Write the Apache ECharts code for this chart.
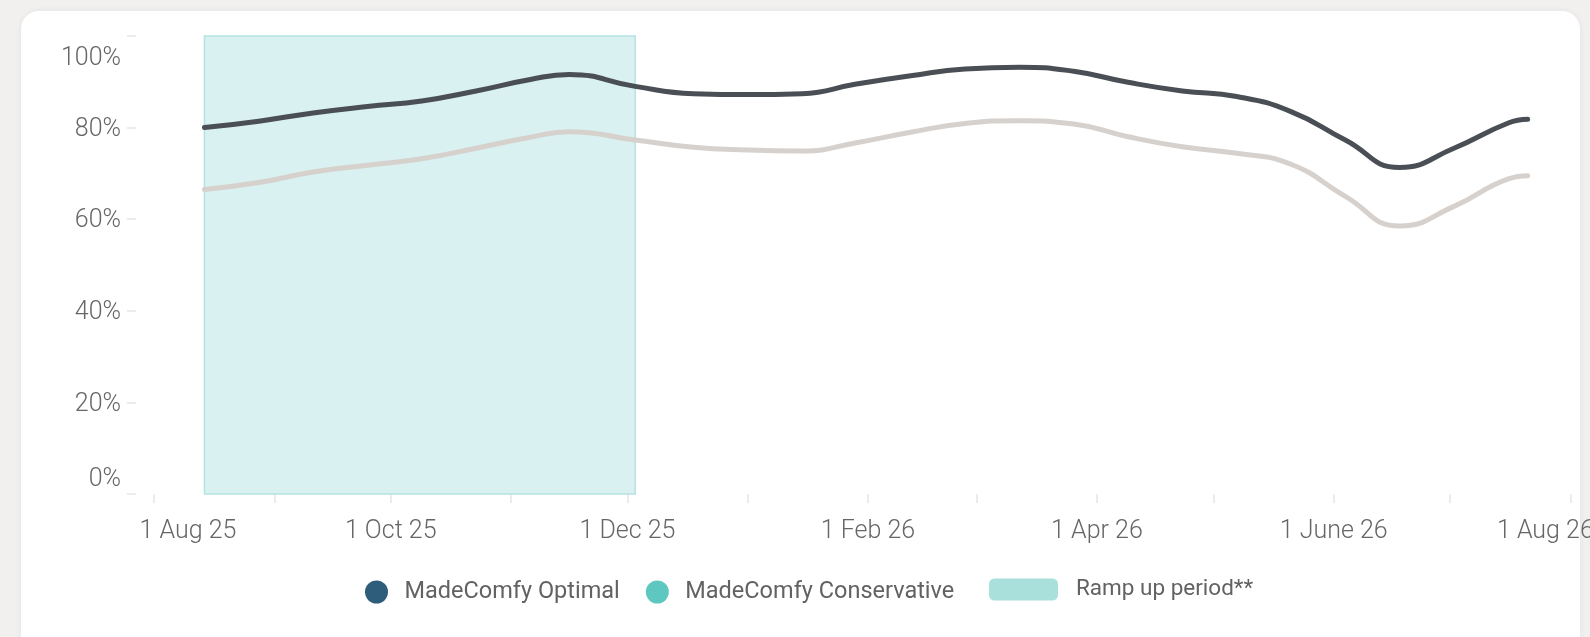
<!DOCTYPE html>
<html>
<head>
<meta charset="utf-8">
<script src="https://cdn.jsdelivr.net/npm/echarts@6/dist/echarts.min.js"></script>
<style>
  html, body { margin: 0; padding: 0; width: 1590px; height: 637px; overflow: hidden; background: #f1f0ee; }
  #card { position: absolute; left: 21px; top: 11px; width: 1559px; height: 700px; background: #ffffff; border-radius: 18px; box-shadow: 0 0 6px rgba(0,0,0,0.06); }
  #chart { position: absolute; left: 0; top: 0; width: 1590px; height: 637px; }
</style>
</head>
<body>
<div id="card"></div>
<div id="chart"></div>
<script>
// Occupancy forecast points
const dates = [
  '2025-08-14', '2025-08-28', '2025-09-11', '2025-09-25', '2025-10-09', '2025-10-23',
  '2025-11-06', '2025-11-16', '2025-12-03', '2025-12-18', '2026-01-01', '2026-01-15',
  '2026-01-29', '2026-02-12', '2026-02-26', '2026-03-12', '2026-03-26', '2026-04-09',
  '2026-04-23', '2026-05-07', '2026-05-21', '2026-06-04', '2026-06-18', '2026-07-02',
  '2026-07-16', '2026-07-21'
];
const optimal = [
  80.0, 81.4, 83.2, 84.6, 85.8, 88.0,
  90.5, 91.6, 89.0, 87.4, 87.2, 87.4,
  89.5, 91.3, 92.8, 93.2, 92.3, 89.9,
  88.0, 86.8, 83.5, 77.3, 71.3, 75.5,
  81.0, 81.8
];
const conservative = [
  66.5, 68.0, 70.3, 71.8, 73.2, 75.5,
  77.9, 79.1, 77.3, 75.7, 75.1, 74.9,
  76.7, 79.0, 80.9, 81.5, 80.8, 78.0,
  75.8, 74.4, 72.0, 65.0, 58.5, 62.8,
  68.8, 69.5
];

// Ramp up period
const rampStart = '2025-08-14';
const rampEnd = '2025-12-03';

// Axis ticks and labels
const tickDates = [
  '2025-08-01', '2025-09-01', '2025-10-01', '2025-11-01', '2025-12-01', '2026-01-01',
  '2026-02-01', '2026-03-01', '2026-04-01', '2026-05-01', '2026-06-01', '2026-07-01', '2026-08-01'
];
const labelDates = ['2025-08-01', '2025-10-01', '2025-12-01', '2026-02-01', '2026-04-01', '2026-06-01', '2026-08-01'];
const labelTexts = ['1 Aug 25', '1 Oct 25', '1 Dec 25', '1 Feb 26', '1 Apr 26', '1 June 26', '1 Aug 26'];
const yTicks = [0, 20, 40, 60, 80, 100];
const yTickLabels = ['0%', '20%', '40%', '60%', '80%', '100%'];

const seriesNames = ['MadeComfy Optimal', 'MadeComfy Conservative', 'Ramp up period**'];

// Dates are placed on a linear axis measured in milliseconds
const t = s => +echarts.time.parse(s);
const DAY = 86400000;
const tickTimes = tickDates.map(t);
const labelTimes = labelDates.map(t);
const xMin = t('2025-08-01') - 4.64 * DAY;
const xMax = xMin + 374.7 * DAY;

const axisFont = { fontFamily: 'Roboto', fontWeight: 300, fontSize: 25, color: '#666666' };
const legendFont = { fontFamily: 'Roboto', fontSize: 23.5, color: '#626262' };

const chart = echarts.init(document.getElementById('chart'), null, { renderer: 'canvas' });

chart.setOption({
  backgroundColor: 'transparent',
  animation: false,
  grid: { left: 136, right: 0, top: 36, bottom: 143, containLabel: false, outerBoundsMode: 'none' },
  legend: [
    {
      data: [
        { name: seriesNames[0], icon: 'circle', itemStyle: { color: '#2e5d7b' } },
        { name: seriesNames[1], icon: 'circle', itemStyle: { color: '#5ec7c0' } }
      ],
      left: 360, top: 575,
      itemWidth: 46, itemHeight: 23, itemGap: 26,
      selectedMode: false,
      textStyle: legendFont
    },
    {
      data: [
        { name: seriesNames[2], icon: 'roundRect', itemStyle: { color: '#a9e0dc' } }
      ],
      left: 984, top: 573,
      itemWidth: 69, itemHeight: 22,
      selectedMode: false,
      textStyle: Object.assign({ padding: [0, 0, 0, 13] }, legendFont, { fontSize: 22.5 })
    }
  ],
  xAxis: {
    type: 'value',
    min: xMin,
    max: xMax,
    axisLine: { show: false },
    splitLine: { show: false },
    axisTick: {
      show: true, length: 9, customValues: tickTimes,
      lineStyle: { color: '#ececec', width: 2 }
    },
    axisLabel: Object.assign({
      customValues: labelTimes,
      margin: 25,
      hideOverlap: false,
      formatter: function (v) {
        const i = labelTimes.indexOf(v);
        if (i < 0) return '';
        // end labels are pulled inward so they stay inside the plot
        if (i === 0) return '{first|' + labelTexts[i] + '}';
        if (i === labelTexts.length - 1) return '{last|' + labelTexts[i] + '}';
        return '{n|' + labelTexts[i] + '}';
      },
      rich: {
        n: Object.assign({}, axisFont),
        first: Object.assign({ padding: [0, 0, 0, 68] }, axisFont),
        last: Object.assign({ padding: [0, 50, 0, 0] }, axisFont)
      }
    }, axisFont)
  },
  yAxis: {
    type: 'value',
    min: 0, max: 100, interval: 20,
    axisLine: { show: false },
    splitLine: { show: false },
    axisTick: { show: true, length: 9, lineStyle: { color: '#ececec', width: 2 } },
    axisLabel: Object.assign({
      margin: 15,
      formatter: function (v) {
        const i = yTicks.indexOf(v);
        const s = i >= 0 ? yTickLabels[i] : '';
        if (v === 100) return '{top|' + s + '}';
        if (v === 0) return '{bot|' + s + '}';
        return '{n|' + s + '}';
      },
      rich: {
        n: Object.assign({ padding: [4, 0, 0, 0] }, axisFont),
        top: Object.assign({ padding: [46, 0, 0, 0] }, axisFont),
        bot: Object.assign({ padding: [0, 0, 28, 0] }, axisFont)
      }
    }, axisFont)
  },
  series: [
    {
      name: seriesNames[2],
      type: 'line',
      data: [],
      itemStyle: { color: '#a9e0dc' },
      markArea: {
        silent: true,
        itemStyle: { color: '#d9f1f0', borderColor: '#b4e3e0', borderWidth: 1.5 },
        data: [[{ xAxis: t(rampStart), yAxis: 100 }, { xAxis: t(rampEnd), yAxis: 0 }]]
      }
    },
    {
      name: seriesNames[1],
      type: 'line',
      data: dates.map((d, i) => [t(d), conservative[i]]),
      smooth: 0.5,
      showSymbol: false,
      itemStyle: { color: '#5ec7c0' },
      lineStyle: { color: '#d6d1cc', width: 5, cap: 'round' },
      z: 3
    },
    {
      name: seriesNames[0],
      type: 'line',
      data: dates.map((d, i) => [t(d), optimal[i]]),
      smooth: 0.5,
      showSymbol: false,
      itemStyle: { color: '#2e5d7b' },
      lineStyle: { color: '#4a4f55', width: 5, cap: 'round' },
      z: 4
    }
  ]
});
</script>
</body>
</html>
